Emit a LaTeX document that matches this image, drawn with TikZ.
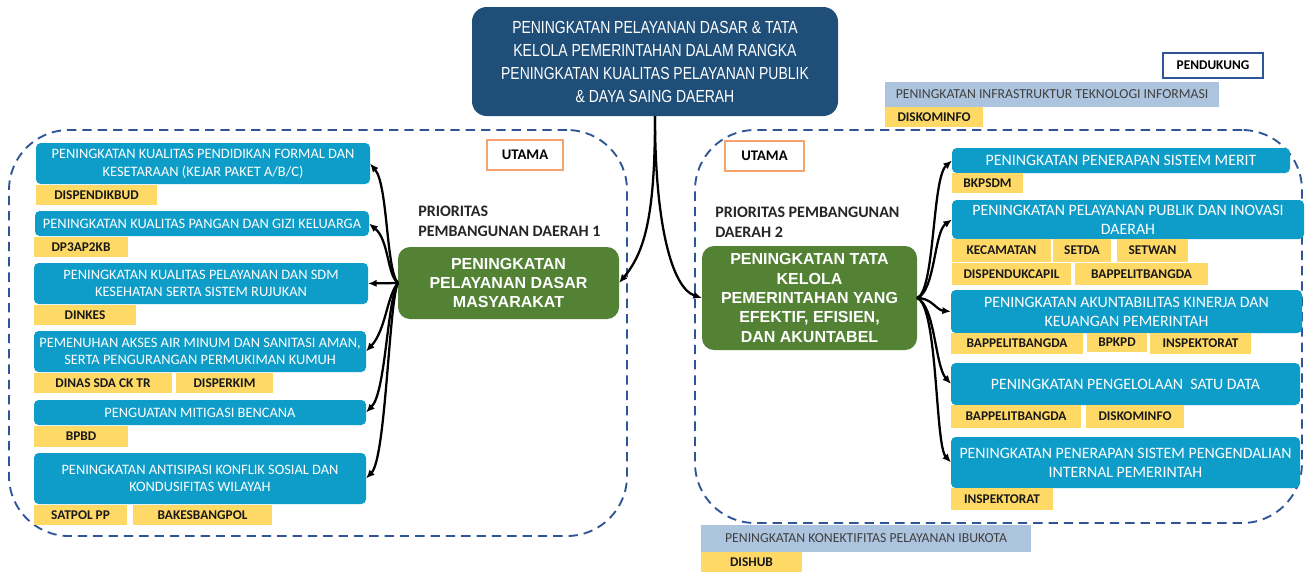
\documentclass[tikz,border=0pt]{standalone}
\usepackage{fontspec}
\setmainfont{Carlito}
\newfontfamily\arialf{Liberation Sans}
\newfontfamily\narrowf[FakeStretch=0.8]{Liberation Sans}
\usetikzlibrary{arrows.meta}
\definecolor{cmain}{HTML}{1F4E79}
\definecolor{cblue}{HTML}{0E9DC8}
\definecolor{cyel}{HTML}{FFD966}
\definecolor{cgreen}{HTML}{548235}
\definecolor{cgray}{HTML}{ADC4DE}
\definecolor{cdash}{HTML}{2F5597}
\definecolor{corange}{HTML}{F4A46C}
\tikzset{
  bb/.style n args={4}{at={({(#1+#3)/2},{-(#2+#4)/2})}, minimum width={(#3-#1)*0.75pt}, minimum height={(#4-#2)*0.75pt}, inner sep=0pt, outer sep=0pt, anchor=center},
  bluebox/.style={fill=cblue, rounded corners=3.5pt, text=white, font=\fontsize{10.8}{13.3}\selectfont, align=center},
  rbluebox/.style={bluebox, font=\fontsize{11.9}{14.2}\selectfont},
  tagbox/.style={fill=cyel, text=black!90, font=\bfseries\fontsize{10}{12}\selectfont},
  greenbox/.style={fill=cgreen, rounded corners=9pt, text=white, font=\arialf\bfseries\fontsize{12}{14.6}\selectfont, align=center},
  graybox/.style={fill=cgray, text=black!75, font=\fontsize{10.3}{12}\selectfont},
  region/.style={draw=cdash, dash pattern=on 7pt off 4.5pt, line width=1.4pt, rounded corners=45pt},
  lblbox/.style={draw=corange, line width=1pt, fill=white, font=\bfseries\fontsize{11}{13}\selectfont},
  prio/.style={font=\bfseries\fontsize{12}{14.8}\selectfont, align=left, anchor=north west, inner sep=0pt, text=black!85},
  arr/.style={-{Latex[length=6.5pt,width=5.5pt]}, line width=1.7pt},
}
\begin{document}
\begin{tikzpicture}[x=0.75pt,y=0.75pt]
\useasboundingbox[fill=white] (0,0) rectangle (1310,-572);

% regions
\node[region, bb={9}{130}{627}{536}] (regL) {};
\node[region, bb={695}{130}{1302}{523}] (regR) {};

% main
\node[fill=cmain, rounded corners=11pt, text=white, align=center,
      font=\narrowf\fontsize{13.1}{17.25}\selectfont, bb={472}{7}{838}{116}] (main)
  {PENINGKATAN PELAYANAN DASAR \& TATA\\KELOLA PEMERINTAHAN DALAM RANGKA\\PENINGKATAN KUALITAS PELAYANAN PUBLIK\\\& DAYA SAING DAERAH};

% pendukung
\node[draw=cdash, line width=0.8pt, fill=white, font=\bfseries\fontsize{10}{12}\selectfont, bb={1163}{53}{1263}{78}] (pend) {PENDUKUNG};
\node[graybox, bb={885}{82}{1219}{107}] (inf) {PENINGKATAN INFRASTRUKTUR TEKNOLOGI INFORMASI};
\node[tagbox, bb={885}{107}{983}{127}] (dk1) {DISKOMINFO};

% utama labels
\node[lblbox, bb={487}{140}{563}{170}] (utL) {UTAMA};
\node[lblbox, bb={725}{141}{804}{171}] (utR) {UTAMA};

% prioritas
\node[prio] (p1) at (418,-206) {PRIORITAS\\PEMBANGUNAN DAERAH 1};
\node[prio] (p2) at (715,-207) {PRIORITAS PEMBANGUNAN\\DAERAH 2};

% green boxes
\node[greenbox, bb={398}{247}{619}{319}] (g1) {PENINGKATAN\\PELAYANAN DASAR\\MASYARAKAT};
\node[greenbox, bb={702}{246}{917}{350}] (g2) {PENINGKATAN TATA\\KELOLA\\PEMERINTAHAN YANG\\EFEKTIF, EFISIEN,\\DAN AKUNTABEL};

% left column
\node[bluebox, bb={36}{143}{370}{184}] (b1) {PENINGKATAN KUALITAS PENDIDIKAN FORMAL DAN\\KESETARAAN (KEJAR PAKET A/B/C)};
\node[tagbox, bb={36}{185}{157}{205}] (t1) {DISPENDIKBUD};
\node[bluebox, bb={35}{211}{369}{236}] (b2) {PENINGKATAN KUALITAS PANGAN DAN GIZI KELUARGA};
\node[tagbox, bb={34}{237}{128}{257}] (t2) {DP3AP2KB};
\node[bluebox, bb={34}{263}{368}{304}] (b3) {PENINGKATAN KUALITAS PELAYANAN DAN SDM\\KESEHATAN SERTA SISTEM RUJUKAN};
\node[tagbox, bb={34}{305}{136}{325}] (t3) {DINKES};
\node[bluebox, bb={34}{331}{366}{372}] (b4) {PEMENUHAN AKSES AIR MINUM DAN SANITASI AMAN,\\SERTA PENGURANGAN PERMUKIMAN KUMUH};
\node[tagbox, bb={34}{373}{172}{393}] (t4a) {DINAS SDA CK TR};
\node[tagbox, bb={176}{373}{273}{393}] (t4b) {DISPERKIM};
\node[bluebox, bb={34}{400}{366}{425}] (b5) {PENGUATAN MITIGASI BENCANA};
\node[tagbox, bb={34}{426}{128}{447}] (t5) {BPBD};
\node[bluebox, bb={34}{453}{366}{504}] (b6) {PENINGKATAN ANTISIPASI KONFLIK SOSIAL DAN\\KONDUSIFITAS WILAYAH};
\node[tagbox, bb={34}{505}{127}{525}] (t6a) {SATPOL PP};
\node[tagbox, bb={133}{505}{272}{525}] (t6b) {BAKESBANGPOL};

% right column
\node[rbluebox, bb={952}{148}{1290}{173}] (r1) {PENINGKATAN PENERAPAN SISTEM MERIT};
\node[tagbox, bb={952}{173}{1023}{193}] (rt1) {BKPSDM};
\node[rbluebox, bb={952}{200}{1304}{239}] (r2) {PENINGKATAN PELAYANAN PUBLIK DAN INOVASI\\DAERAH};
\node[tagbox, bb={952}{239}{1051}{262}] (rt2a) {KECAMATAN};
\node[tagbox, bb={1053}{239}{1111}{262}] (rt2b) {SETDA};
\node[tagbox, bb={1117}{239}{1188}{262}] (rt2c) {SETWAN};
\node[tagbox, bb={952}{263}{1071}{285}] (rt2d) {DISPENDUKCAPIL};
\node[tagbox, bb={1075}{263}{1208}{285}] (rt2e) {BAPPELITBANGDA};
\node[rbluebox, bb={951}{290}{1302}{333}] (r3) {PENINGKATAN AKUNTABILITAS KINERJA DAN\\KEUANGAN PEMERINTAH};
\node[tagbox, bb={951}{333}{1083}{354}] (rt3a) {BAPPELITBANGDA};
\node[tagbox, bb={1087}{333}{1147}{352}] (rt3b) {BPKPD};
\node[tagbox, bb={1150}{333}{1251}{354}] (rt3c) {INSPEKTORAT};
\node[rbluebox, bb={951}{363}{1300}{405}] (r4) {PENINGKATAN PENGELOLAAN\ \ SATU DATA};
\node[tagbox, bb={951}{405}{1081}{428}] (rt4a) {BAPPELITBANGDA};
\node[tagbox, bb={1086}{405}{1184}{428}] (rt4b) {DISKOMINFO};
\node[rbluebox, bb={951}{437}{1300}{488}] (r5) {PENINGKATAN PENERAPAN SISTEM PENGENDALIAN\\INTERNAL PEMERINTAH};
\node[tagbox, bb={951}{488}{1053}{510}] (rt5) {INSPEKTORAT};

% bottom support
\node[graybox, bb={701}{525}{1031}{552}] (kon) {PENINGKATAN KONEKTIFITAS PELAYANAN IBUKOTA};
\node[tagbox, bb={701}{552}{802}{572}] (dishub) {DISHUB};

% main connectors
\draw[arr] (main.south) .. controls (655,-215) and (645,-252) .. (g1.east);
\draw[arr] (main.south) .. controls (655,-225) and (672,-288) .. (g2.west);

% left fan
\draw[arr] (g1.west) .. controls (386,-270) and (388,-185) .. (b1.east);
\draw[arr] (g1.west) .. controls (387,-275) and (389,-240) .. (b2.east);
\draw[arr] (g1.west) -- (b3.east);
\draw[arr] (g1.west) .. controls (387,-295) and (386,-330) .. (b4.east);
\draw[arr] (g1.west) .. controls (387,-300) and (386,-392) .. (b5.east);
\draw[arr] (g1.west) .. controls (389,-300) and (386,-458) .. (b6.east);

% right fan
\draw[arr] (g2.east) .. controls (935,-292) and (932,-178) .. (r1.west);
\draw[arr] (g2.east) .. controls (935,-292) and (934,-232) .. (r2.west);
\draw[arr] (g2.east) .. controls (932,-298) and (936,-310) .. (r3.west);
\draw[arr] (g2.east) .. controls (935,-305) and (935,-366) .. (r4.west);
\draw[arr] (g2.east) .. controls (938,-305) and (935,-445) .. (r5.west);
\end{tikzpicture}
\end{document}
